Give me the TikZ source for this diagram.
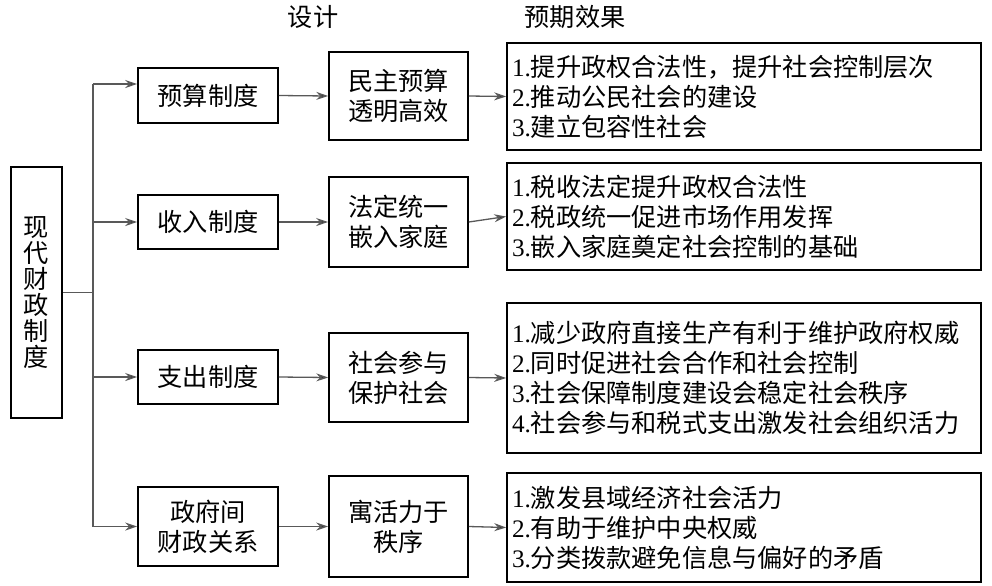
\documentclass[tikz,border=0pt]{standalone}
\usepackage{fontspec}
\setmainfont{Liberation Serif}
\newfontfamily\cjk{Noto Sans CJK SC}
\usetikzlibrary{arrows.meta,positioning}
\newcommand\zh{\cjk\fontsize{12.6}{15}\selectfont}
\newcommand\nr[1]{{\rmfamily #1.}}
\tikzset{
  box/.style={draw, line width=0.8pt, inner sep=0pt, align=center, font=\zh},
  sysbox/.style={box, minimum width=70pt},
  designbox/.style={box, minimum width=69.5pt},
  resultbox/.style={box, minimum width=237pt, text width=232pt, align=left, inner xsep=2.5pt},
  tree/.style={draw=black!65, line width=0.65pt},
  link/.style={tree, -{Stealth[length=6pt,width=4pt,fill=black!80]}},
}

\begin{document}
\begin{tikzpicture}[x=0.5pt,y=-0.5pt]
  \useasboundingbox (0,0) rectangle (992,585);

  % 表头
  \node[font=\zh] (hdesign) at (313,17) {设计};
  \node[font=\zh] (heffect) at (575,17) {预期效果};

  % 左侧总框
  \node[box, minimum width=25.5pt, minimum height=125.5pt, font=\cjk\fontsize{12.6}{13}\selectfont] (fiscal) at (36.5,292.5) {现\\代\\财\\政\\制\\度};

  % 预算制度
  \node[sysbox, minimum height=27.5pt] (budget) at (208,95.5) {预算制度};
  \node[designbox, minimum height=44pt] (budgetD) at (398.5,96) {民主预算\\透明高效};
  \node[resultbox, minimum height=53.5pt] (budgetE) at (744,96.5) {\nr1提升政权合法性，提升社会控制层次\\\nr2推动公民社会的建设\\\nr3建立包容性社会};

  % 收入制度
  \node[sysbox, minimum height=27pt] (income) at (208,222) {收入制度};
  \node[designbox, minimum height=45pt] (incomeD) at (398.5,222) {法定统一\\嵌入家庭};
  \node[resultbox, minimum height=53.5pt] (incomeE) at (744,216.5) {\nr1税收法定提升政权合法性\\\nr2税政统一促进市场作用发挥\\\nr3嵌入家庭奠定社会控制的基础};

  % 支出制度
  \node[sysbox, minimum height=27pt] (expend) at (208,377) {支出制度};
  \node[designbox, minimum height=44.5pt] (expendD) at (398.5,377.5) {社会参与\\保护社会};
  \node[resultbox, minimum height=75pt] (expendE) at (744,378) {\nr1减少政府直接生产有利于维护政府权威\\\nr2同时促进社会合作和社会控制\\\nr3社会保障制度建设会稳定社会秩序\\\nr4社会参与和税式支出激发社会组织活力};

  % 政府间财政关系
  \node[sysbox, minimum height=39.5pt] (transfer) at (208,526.5) {政府间\\财政关系};
  \node[designbox, minimum height=50.5pt] (transferD) at (398.5,526.5) {寓活力于\\秩序};
  \node[resultbox, minimum height=54.5pt] (transferE) at (744,527.5) {\nr1激发县域经济社会活力\\\nr2有助于维护中央权威\\\nr3分类拨款避免信息与偏好的矛盾};

  % 分支
  \coordinate (top) at (93,84);
  \coordinate (bot) at (93,526.5);
  \draw[tree] (fiscal.east) -- (fiscal.east -| top);
  \draw[tree] (top) -- (bot);
  \draw[link] (top) -- (top -| budget.west);
  \draw[link] (income.west -| top) -- (income.west);
  \draw[link] (expend.west -| top) -- (expend.west);
  \draw[link] (bot) -- (transfer.west);

  % 设计与效果
  \foreach \r in {budget,income,expend,transfer}{
    \draw[link] (\r.east) -- (\r D.west);
    \draw[link] (\r D.east) -- (\r E.west);
  }
\end{tikzpicture}
\end{document}
